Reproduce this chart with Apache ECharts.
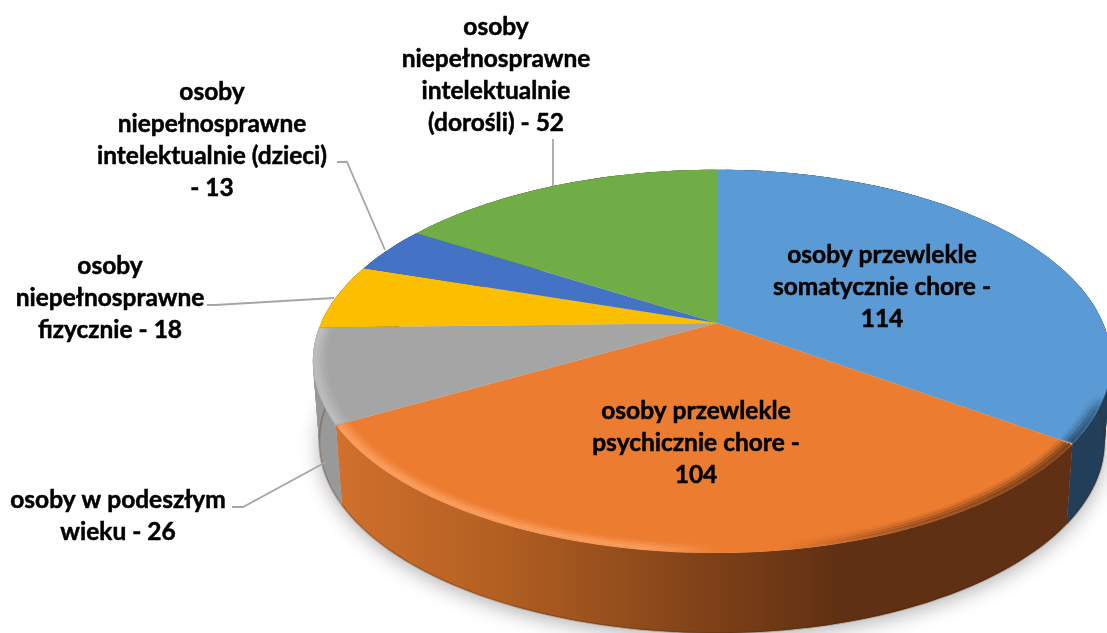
<!DOCTYPE html>
<html>
<head>
<meta charset="utf-8">
<title>pie</title>
<style>
  html, body { margin: 0; padding: 0; background: #fff; }
  #chart { width: 1107px; height: 633px; }
</style>
</head>
<body>
<div id="chart"></div>
<script src="https://cdn.jsdelivr.net/npm/echarts@6/dist/echarts.min.js"></script>
<script>
// data, clockwise from 12 o'clock
const labelLeads = [
  'osoby przewlekle\nsomatycznie chore -\n',
  'osoby przewlekle\npsychicznie chore -\n',
  'osoby w podeszłym\nwieku - ',
  'osoby\nniepełnosprawne\nfizycznie - ',
  'osoby\nniepełnosprawne\nintelektualnie (dzieci)\n- ',
  'osoby\nniepełnosprawne\nintelektualnie\n(dorośli) - '
];
const values = [114, 104, 26, 18, 13, 52];

// look
const faceColors = ['#5B9BD5', '#EC7C30', '#A5A5A5', '#FBBF00', '#4472C4', '#70AD47'];
const wallStops = [
  [[0, '#223F59'], [1, '#223F59']],
  [[0, '#D0702C'], [0.22, '#B25F22'], [0.5, '#7F4118'], [0.68, '#5F3013'], [1, '#5F3013']],
  [[0, '#999999'], [1, '#8A8A8A']],
  [[0, '#99750A'], [1, '#99750A']],
  [[0, '#2A4578'], [1, '#2A4578']],
  [[0, '#44692B'], [1, '#44692B']]
];
const bevelStops = [
  null,
  [[0, 'rgba(255,170,110,0.9)'], [0.42, 'rgba(255,170,110,0.75)'], [0.52, 'rgba(255,170,110,0)'],
    [0.6, 'rgba(95,48,19,0)'], [0.78, 'rgba(95,48,19,0.6)'], [1, 'rgba(95,48,19,1)']],
  [[0, 'rgba(225,225,225,0.5)'], [1, 'rgba(225,225,225,0.25)']],
  null,
  null,
  null
];
// blue rim only darkens where it meets the front wall
const blueBevelStops = [[0, 'rgba(34,63,89,0)'], [0.35, 'rgba(34,63,89,0.7)'], [1, 'rgba(34,63,89,1)']];

// layout
const labelPos = [[882, 287], [696, 443], [118, 516], [110, 298], [212, 140], [496, 75]];
const leaders = [
  null,
  null,
  [[232, 507], [243, 507], [326, 462]],
  [[207, 305], [215, 305], [334, 298]],
  [[337, 162], [347, 162], [385, 250]],
  [[553, 139], [553, 186]]
];
const cx = 717, cy = 323, radiusLeft = 396, radiusRight = 386, radiusY = 184;
const tilt = 0.2, depth = 80, shrink = 0.016;

const total = values.reduce((s, v) => s + v, 0);

// circle -> perspective ellipse, low = 1 is the lower rim
function project(ang, r, low) {
  const x = r * Math.sin(ang), y = -r * Math.cos(ang);
  const w = 1 - tilt * y;
  const rx = x > 0 ? radiusRight : radiusLeft;
  return [cx + rx * x / w * (1 - shrink * low), cy + radiusY * y / w + depth * low];
}

function arcPoints(a0, a1, r, low, step) {
  const n = Math.max(2, Math.ceil(Math.abs(a1 - a0) / (step || 0.01)));
  const pts = [];
  for (let i = 0; i <= n; i++) pts.push(project(a0 + (a1 - a0) * i / n, r, low));
  return pts;
}

function grad(stops) {
  return new echarts.graphic.LinearGradient(340, 0, 1075, 0,
    stops.map(s => ({ offset: s[0], color: s[1] })), true);
}

function renderSlice(params, api) {
  const i = params.dataIndex;
  const before = values.slice(0, i).reduce((s, v) => s + v, 0);
  const a0 = before / total * Math.PI * 2;
  const a1 = a0 + api.value(0) / total * Math.PI * 2;
  const rim = arcPoints(a0, a1, 1, 0);
  const children = [];

  // soft shadow under the whole pie, only once
  if (i === 0) {
    children.push({
      type: 'polygon', z2: 0, silent: true,
      shape: { points: arcPoints(0, Math.PI * 2, 1, 1) },
      style: { fill: '#ddd', shadowBlur: 20, shadowColor: 'rgba(0,0,0,0.3)', shadowOffsetY: 5 }
    });
  }

  // side wall, swept in overlapping quads so the silhouette stays straight at the tangents
  const upper = arcPoints(a0, a1, 1, 0, 0.03);
  const lower = arcPoints(a0, a1, 1, 1, 0.03);
  const wallFill = grad(wallStops[i]);
  for (let k = 0; k < upper.length - 1; k++) {
    const e = Math.min(k + 2, upper.length - 1);
    children.push({
      type: 'polygon', z2: 1, silent: true,
      shape: { points: upper.slice(k, e + 1).concat(lower.slice(k, e + 1).reverse()) },
      style: { fill: wallFill }
    });
  }
  children.push({
    type: 'polyline', z2: 2, silent: true,
    shape: { points: arcPoints(a0, a1, 1, 1) },
    style: { fill: null, stroke: 'rgba(70,30,5,0.25)', lineWidth: 2 }
  });

  // top face
  children.push({
    type: 'polygon', z2: 3, silent: true,
    shape: { points: [[cx, cy]].concat(rim) },
    style: { fill: faceColors[i] }
  });

  // bevel along the rim
  let bevelStroke = null;
  if (bevelStops[i]) {
    bevelStroke = grad(bevelStops[i]);
  } else if (i === 0) {
    bevelStroke = new echarts.graphic.LinearGradient(0, 395, 0, 440,
      blueBevelStops.map(s => ({ offset: s[0], color: s[1] })), true);
  }
  if (bevelStroke) {
    [[0.995, 0.75], [0.987, 0.6], [0.979, 0.35], [0.971, 0.15]].forEach(b => {
      children.push({
        type: 'polyline', z2: 4, silent: true,
        shape: { points: arcPoints(a0 + 0.004, a1 - 0.004, b[0], 0) },
        style: { fill: null, stroke: bevelStroke, lineWidth: 3.5, opacity: b[1] }
      });
    });
  }

  // leader line
  if (leaders[i]) {
    children.push({
      type: 'polyline', z2: 5, silent: true,
      shape: { points: leaders[i] },
      style: { fill: null, stroke: '#A6A6A6', lineWidth: 1.8 }
    });
  }

  // label
  children.push({
    type: 'text', z2: 6, silent: true,
    x: labelPos[i][0], y: labelPos[i][1],
    style: {
      text: labelLeads[i] + api.value(0),
      font: 'bold 24.5px Lato, "Noto Sans", sans-serif',
      fill: '#000',
      stroke: '#000',
      lineWidth: 0.5,
      align: 'center',
      verticalAlign: 'middle',
      lineHeight: 32
    }
  });

  return { type: 'group', children: children };
}

const myChart = echarts.init(document.getElementById('chart'), null, { renderer: 'canvas' });
myChart.setOption({
  animation: false,
  backgroundColor: '#fff',
  series: [{
    type: 'custom',
    coordinateSystem: 'none',
    renderItem: renderSlice,
    data: values.map(v => [v])
  }]
});
</script>
</body>
</html>
